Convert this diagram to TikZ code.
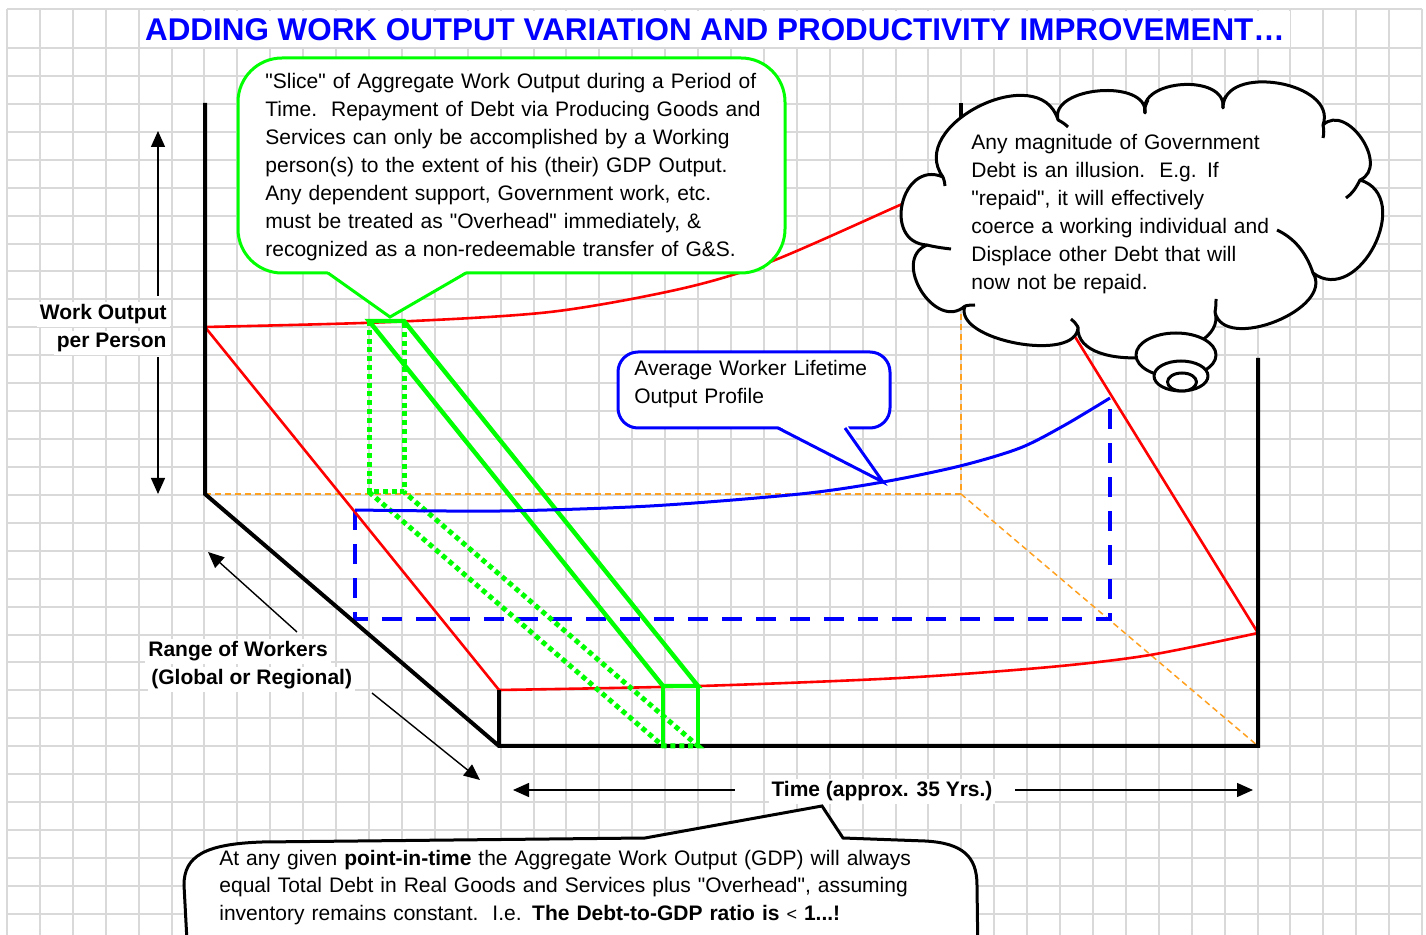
\documentclass[tikz,border=0pt]{standalone}
\usepackage{fontspec}
\setmainfont{Liberation Sans}[Ligatures=TeXOff]
\usetikzlibrary{calc,arrows.meta}
\definecolor{gridgray}{RGB}{217,217,217}
\definecolor{puregreen}{RGB}{0,255,0}
\definecolor{ttlblue}{RGB}{0,0,255}
\definecolor{axorange}{RGB}{255,160,30}
\begin{document}
\begin{tikzpicture}[x=0.5pt,y=-0.5pt,
  gridline/.style={draw=gridgray,line width=1pt},
  axis/.style={draw=black,line width=2pt},
  redline/.style={draw=red,line width=1.3pt},
  orangedash/.style={draw=axorange,line width=0.75pt,dash pattern=on 3pt off 2pt},
  bluedash/.style={draw=ttlblue,line width=2pt,dash pattern=on 10pt off 7pt},
  bluecurve/.style={draw=ttlblue,line width=1.5pt},
  slicesolid/.style={draw=puregreen,line width=2.2pt},
  slicedot/.style={draw=puregreen,line width=2.5pt,dash pattern=on 2.5pt off 1.9pt},
  arr/.style={draw=black,line width=0.7pt,-{Triangle[length=8pt,width=7pt]}},
  txt/.style={font=\fontsize{10.5}{13.95}\selectfont,inner sep=0pt,align=left},
  lbl/.style={font=\bfseries\fontsize{10.5}{13.95}\selectfont,inner sep=1.5pt,fill=white},
  cloudline/.style={draw=black,line width=1.5pt,fill=white,line join=round},
  tickline/.style={draw=black,line width=1.5pt,line cap=butt},
  puffto/.style={to path={.. controls ($(\tikztostart)!#1!100:(\tikztotarget)$) and ($(\tikztotarget)!#1!-100:(\tikztostart)$) .. (\tikztotarget)}}
]
\fill[white] (0,0) rectangle (1426,935);
\useasboundingbox (0,0) rectangle (1426,935);
% grid
\foreach \k in {0,...,43} \draw[gridline] ({7+32.91*\k},9) -- ({7+32.91*\k},935);
\draw[gridline] (7,9) -- (1422,9);
\foreach \k in {0,...,31} \draw[gridline] (7,{48+27.93*\k}) -- (1422,{48+27.93*\k});
% title
\fill[white] (140,11) rectangle (1290,47);
\node[font=\bfseries\fontsize{15.7}{18}\selectfont,text=ttlblue,anchor=base,inner sep=0pt] (title) at (715,41) {ADDING WORK OUTPUT VARIATION AND PRODUCTIVITY IMPROVEMENT…};
% coordinates
\coordinate (LT) at (205,103);
\coordinate (LB) at (205,494);
\coordinate (FB) at (499,746);
\coordinate (FT) at (499,690);
\coordinate (RB) at (1258,746);
\coordinate (RT) at (1258,358);
\coordinate (BT) at (961,103);
\coordinate (BC) at (961,200);
\coordinate (BB) at (961,494);
\coordinate (BU) at (961,300);
\coordinate (R1) at (205,327);
\coordinate (R3) at (1258,633);
\coordinate (R4) at (1040,280);
\coordinate (B1) at (355,510);
\coordinate (B2) at (355,619);
\coordinate (B3) at (1110,619);
\coordinate (B4) at (1110,398);
\coordinate (G1) at (369,321);
\coordinate (G2) at (404,321);
\coordinate (G3) at (663,686);
\coordinate (G4) at (698,686);
\coordinate (G5) at (663,746);
\coordinate (G6) at (698,746);
\coordinate (G7) at (369,492);
\coordinate (G8) at (404,492);
% orange dashed back edges
\draw[orangedash] (LB) -- (BB) -- (BU);
\draw[orangedash] (BB) -- (RB);
% blue dashed rectangle
\draw[bluedash] (B1) -- (B2) -- (B3) -- (B4);
% red surface
\draw[redline] (R1) -- (FT);
\draw[redline] (R3) -- (R4);
\draw[redline] plot[smooth] coordinates {(499,690) (700,686) (900,678) (1050,667) (1150,655) (1258,633)};
\draw[redline] plot[smooth] coordinates {(205,327) (390,322) (550,312) (680,289) (770,262) (900,205) (935,190)};
% black axes
\draw[axis] (LT) -- (LB) -- (FB) -- (RB) -- (RT);
\draw[axis] (FT) -- (FB);
\draw[axis] (BT) -- (BC);
% green slice
\draw[slicedot] (G1) -- (G7) -- (G8) -- (G2);
\draw[slicedot] (G7) -- (G5) -- (G6) -- (G8);
\draw[slicesolid] (G3) -- (G1) -- (G2) -- (G4) -- cycle;
\draw[slicesolid] (G3) -- (G5);
\draw[slicesolid] (G4) -- (G6);
% blue profile
\draw[bluecurve] plot[smooth] coordinates {(355,510) (500,511) (650,506) (800,494) (883,482) (960,466) (1020,448) (1065,425) (1110,398)};
% labels and arrows
\node[lbl,anchor=base east] (wo1) at (170,320) {Work Output};
\node[lbl,anchor=base east] (wo2) at (170,348) {per Person};
\coordinate (woS1) at (158,296);
\coordinate (woTop) at (158,131);
\coordinate (woS2) at (158,357);
\coordinate (woBot) at (158,494);
\draw[arr] (woS1) -- (woTop);
\draw[arr] (woS2) -- (woBot);
\node[lbl,anchor=base west] (rw1) at (145,657) {Range of Workers};
\node[lbl,anchor=base west] (rw2) at (148,685) {(Global or Regional)};
\coordinate (rwS1) at (297,632);
\coordinate (rwT1) at (208,552);
\coordinate (rwS2) at (372,693);
\coordinate (rwT2) at (480,780);
\draw[arr] (rwS1) -- (rwT1);
\draw[arr] (rwS2) -- (rwT2);
\node[lbl,anchor=base] (time) at (882,797) {Time (approx. 35 Yrs.)};
\coordinate (tS1) at (735,790);
\coordinate (tT1) at (513,790);
\coordinate (tS2) at (1015,790);
\coordinate (tT2) at (1253,790);
\draw[arr] (tS1) -- (tT1);
\draw[arr] (tS2) -- (tT2);
% green callout
\draw[draw=puregreen,line width=1.5pt,fill=white,rounded corners=22pt] (238,58) rectangle (785,273);
\coordinate (gtip) at (390,317);
\fill[white] (326,270) -- (468,270) -- (gtip) -- cycle;
\draw[draw=puregreen,line width=1.5pt] (328,273) -- (gtip) -- (466,273);
\node[txt,anchor=base west,text width=265pt] (gtext) at (265,89) {"Slice" of Aggregate Work Output during a Period of\\Time.\ \ Repayment of Debt via Producing Goods and\\Services can only be accomplished by a Working\\person(s) to the extent of his (their) GDP Output.\\Any dependent support, Government work, etc.\\must be treated as "Overhead" immediately, \&\\recognized as a non-redeemable transfer of G\&S.};
% blue callout
\draw[draw=ttlblue,line width=1.5pt,fill=white,rounded corners=10pt] (618,352) rectangle (890,428);
\coordinate (btip) at (883,482);
\fill[white] (776,425) -- (847,425) -- (btip) -- cycle;
\draw[draw=ttlblue,line width=1.5pt] (778,428) -- (btip) -- (845,428);
\node[txt,anchor=base west,text width=130pt] (btextc) at (634,376) {Average Worker Lifetime\\Output Profile};
% cloud
\draw[cloudline] (943,177) to[puffto=0.5] (1058,120) to[puffto=0.4] (1145,113) to[puffto=0.45] (1223,108) to[puffto=0.45] (1323,125) to[puffto=0.5] (1360,180) to[puffto=0.55] (1313,273) to[puffto=0.4] (1215,312) to[puffto=0.37] (1078,327) to[puffto=0.32] (965,306) to[puffto=0.55] (927,245) to[puffto=0.65] (943,177) -- cycle;
% inner puff ticks
\draw[tickline] (1313,273) .. controls (1306,252) and (1294,238) .. (1277,230);
\draw[tickline] (1360,180) .. controls (1356,188) and (1352,194) .. (1346,198);
\draw[tickline] (927,245) .. controls (935,247) and (942,248) .. (951,249);
\draw[tickline] (943,177) .. controls (944,180) and (945,183) .. (945,186);
\draw[tickline] (1058,120) .. controls (1062,122) and (1065,124) .. (1068,127);
\draw[tickline] (1145,113) .. controls (1144,108) and (1146,104) .. (1148,100);
\draw[tickline] (1223,108) .. controls (1222,104) and (1224,99) .. (1226,96);
\draw[tickline] (1323,125) .. controls (1324,130) and (1324,134) .. (1323,138);
\draw[tickline] (1215,312) .. controls (1216,307) and (1216,303) .. (1216,299);
\draw[tickline] (1078,327) .. controls (1076,324) and (1074,321) .. (1071,319);
\draw[tickline] (965,306) .. controls (969,305) and (972,305) .. (975,305);
\draw[cloudline] (1176,355) ellipse [x radius=40, y radius=22];
\draw[cloudline] (1181,376) ellipse [x radius=27, y radius=15];
\draw[cloudline] (1182,382) ellipse [x radius=14.5, y radius=9];
\node[txt,anchor=base west,text width=200pt] (ctext) at (971,150) {Any magnitude of Government\\Debt is an illusion.\ \ E.g. If\\"repaid", it will effectively\\coerce a working individual and\\Displace other Debt that will\\now not be repaid.};
% bottom callout
\coordinate (ptip) at (822,806);
\draw[line width=1.5pt,fill=white] (645,838) -- (262,842) .. controls (205,844) and (184,856) .. (184,885) -- (188,960) -- (978,960) -- (977,885) .. controls (977,856) and (962,843) .. (925,841) -- (843,838) -- (ptip) -- cycle;
\node[txt,anchor=base west,text width=380pt] (bottext) at (219,865) {At any given \textbf{point-in-time} the Aggregate Work Output (GDP) will always\\equal Total Debt in Real Goods and Services plus "Overhead", assuming\\inventory remains constant.\ \ I.e. \textbf{The Debt-to-GDP ratio is} {\small <} \textbf{1...!}};
\end{tikzpicture}
\end{document}
